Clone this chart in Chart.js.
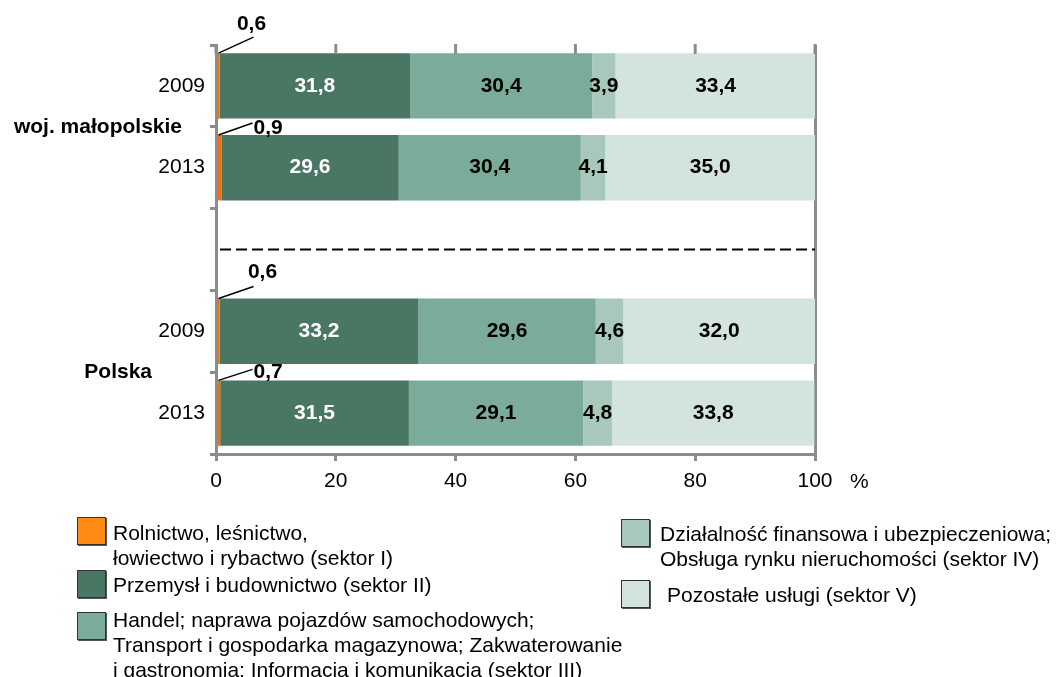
<!DOCTYPE html>
<html lang="pl">
<head>
<meta charset="utf-8">
<script src="https://cdn.jsdelivr.net/npm/chart.js@4.4.1/dist/chart.umd.min.js"></script>
<style>
  body { margin: 0; background: #fff; }
  #wrap { position: relative; width: 1059px; height: 677px; font-family: 'Liberation Sans', Arial, sans-serif; }
  #chart { position: absolute; left: 0; top: 0; }
  .sw { position: absolute; width: 27px; height: 26px; border: 1px solid #333; box-shadow: 1px 1px 0 #555; }
  .lt { position: absolute; font-size: 21px; line-height: 25px; color: #000; white-space: nowrap; }
</style>
</head>
<body>
<div id="wrap">
  <canvas id="chart" width="1059" height="677"></canvas>
</div>
<script>
// dane
const categories = ['2009', '2013', '', '2009', '2013'];
const groupNames = ['woj. małopolskie', 'Polska'];
const sectorI = [0.6, 0.9, null, 0.6, 0.7];
const sectorII = [31.8, 29.6, null, 33.2, 31.5];
const sectorIII = [30.4, 30.4, null, 29.6, 29.1];
const sectorIV = [3.9, 4.1, null, 4.6, 4.8];
const sectorV = [33.4, 35.0, null, 32.0, 33.8];
const xTicks = [0, 20, 40, 60, 80, 100];
const unitLabel = '%';
const sectorNames = [
  ['Rolnictwo, leśnictwo,', 'łowiectwo i rybactwo (sektor I)'],
  ['Przemysł i budownictwo (sektor II)'],
  ['Handel; naprawa pojazdów samochodowych;', 'Transport i gospodarka magazynowa; Zakwaterowanie', 'i gastronomia; Informacja i komunikacja (sektor III)'],
  ['Działalność finansowa i ubezpieczeniowa;', 'Obsługa rynku nieruchomości (sektor IV)'],
  ['Pozostałe usługi (sektor V)']
];

// wyglad
const barColors = ['#E8730F', '#4A7664', '#7AAC99', '#A9C8BC', '#D3E4DE'];
const swatchColors = ['#FF8B17', '#4A7664', '#7AAC99', '#A9C8BC', '#D3E4DE'];
const labelColors = [null, '#fff', '#000', '#000', '#000'];
const gray = '#8C8C8C';
const FONT = "'Liberation Sans', Arial, sans-serif";
const groupLabelRight = [182, 152];
// odnosniki dla malych wartosci (sektor I)
const leaderStyle = [
  { dx: 35, dy: -16, tx: 33, ty: -29, align: 'center' },
  { dx: 34, dy: -12, tx: 35, ty: -7, align: 'left' },
  null,
  { dx: 35, dy: -12, tx: 44, ty: -26, align: 'center' },
  { dx: 34, dy: -11, tx: 35, ty: -8, align: 'left' }
];
const legendPos = [
  { sx: 77, sy: 517, tx: 113, ty: 520 },
  { sx: 77, sy: 570, tx: 113, ty: 572 },
  { sx: 77, sy: 612, tx: 113, ty: 607 },
  { sx: 621, sy: 519, tx: 660, ty: 521 },
  { sx: 621, sy: 580, tx: 667, ty: 582 }
];

const fmt = v => v.toFixed(1).replace('.', ',');

// legenda
const wrap = document.getElementById('wrap');
sectorNames.forEach((lines, i) => {
  const p = legendPos[i];
  const sw = document.createElement('div');
  sw.className = 'sw';
  sw.style.left = p.sx + 'px';
  sw.style.top = p.sy + 'px';
  sw.style.background = swatchColors[i];
  wrap.appendChild(sw);
  const t = document.createElement('div');
  t.className = 'lt';
  t.style.left = p.tx + 'px';
  t.style.top = p.ty + 'px';
  t.innerHTML = lines.join('<br>');
  wrap.appendChild(t);
});

const extras = {
  id: 'extras',
  afterDraw(chart) {
    const ctx = chart.ctx;
    const xs = chart.scales.x, ys = chart.scales.y;
    const area = chart.chartArea;
    ctx.save();

    // kreski u gory
    ctx.strokeStyle = gray;
    ctx.lineWidth = 3;
    xTicks.forEach(v => {
      const px = xs.getPixelForValue(v);
      ctx.beginPath();
      ctx.moveTo(px, area.top - 1);
      ctx.lineTo(px, area.top + 9);
      ctx.stroke();
    });

    // linia przerywana
    const yMid = ys.getPixelForValue(2);
    ctx.strokeStyle = '#000';
    ctx.lineWidth = 2;
    ctx.setLineDash([11, 5]);
    ctx.beginPath();
    ctx.moveTo(area.left + 4, yMid);
    ctx.lineTo(area.right, yMid);
    ctx.stroke();
    ctx.setLineDash([]);

    // etykiety wartosci
    ctx.font = 'bold 21px ' + FONT;
    ctx.textBaseline = 'middle';
    chart.data.datasets.forEach((ds, di) => {
      const meta = chart.getDatasetMeta(di);
      meta.data.forEach((bar, i) => {
        const v = ds.data[i];
        if (v == null) return;
        if (di === 0) {
          const st = leaderStyle[i];
          const x0 = bar.base + 1, y0 = bar.y - bar.height / 2;
          ctx.strokeStyle = '#000';
          ctx.lineWidth = 1.5;
          ctx.beginPath();
          ctx.moveTo(x0, y0);
          ctx.lineTo(x0 + st.dx, y0 + st.dy);
          ctx.stroke();
          ctx.fillStyle = '#000';
          ctx.textAlign = st.align;
          ctx.fillText(fmt(v), x0 + st.tx, y0 + st.ty);
        } else {
          ctx.fillStyle = labelColors[di];
          ctx.textAlign = 'center';
          ctx.fillText(fmt(v), (bar.x + bar.base) / 2, bar.y);
        }
      });
    });

    // nazwy grup
    ctx.fillStyle = '#000';
    ctx.textAlign = 'right';
    groupNames.forEach((name, g) => {
      const i = g * 3;
      const y = (ys.getPixelForValue(i) + ys.getPixelForValue(i + 1)) / 2;
      ctx.fillText(name, groupLabelRight[g], y);
    });

    // jednostka
    ctx.font = '21px ' + FONT;
    ctx.textAlign = 'left';
    ctx.fillText(unitLabel, xs.right + 35, xs.top + 28);
    ctx.restore();
  }
};

const sets = [sectorI, sectorII, sectorIII, sectorIV, sectorV].map((d, i) => ({
  label: sectorNames[i].join(' '),
  data: d,
  backgroundColor: barColors[i],
  borderWidth: 0,
  barPercentage: 0.8,
  categoryPercentage: 1
}));

new Chart(document.getElementById('chart'), {
  type: 'bar',
  data: { labels: categories, datasets: sets },
  options: {
    indexAxis: 'y',
    responsive: false,
    animation: false,
    devicePixelRatio: 1,
    layout: { padding: { left: 0, top: 45, right: 244, bottom: 173 } },
    plugins: { legend: { display: false }, tooltip: { enabled: false } },
    scales: {
      x: {
        stacked: true,
        min: 0,
        max: 100,
        afterFit: s => { s.height = 50; },
        afterBuildTicks: s => { s.ticks = xTicks.map(v => ({ value: v })); },
        border: { color: gray, width: 3 },
        grid: {
          color: c => (c.tick && c.tick.value === 100 ? gray : 'rgba(0,0,0,0)'),
          tickColor: gray,
          lineWidth: 3,
          tickLength: 7
        },
        ticks: { color: '#000', font: { family: FONT, size: 21 }, padding: 8, maxRotation: 0 }
      },
      y: {
        stacked: true,
        afterFit: s => { s.width = 216; },
        border: { color: gray, width: 3 },
        grid: { drawOnChartArea: false, tickColor: gray, lineWidth: 3, tickLength: 6 },
        ticks: { color: '#000', font: { family: FONT, size: 21 }, padding: 5 }
      }
    }
  },
  plugins: [extras]
});
</script>
</body>
</html>
